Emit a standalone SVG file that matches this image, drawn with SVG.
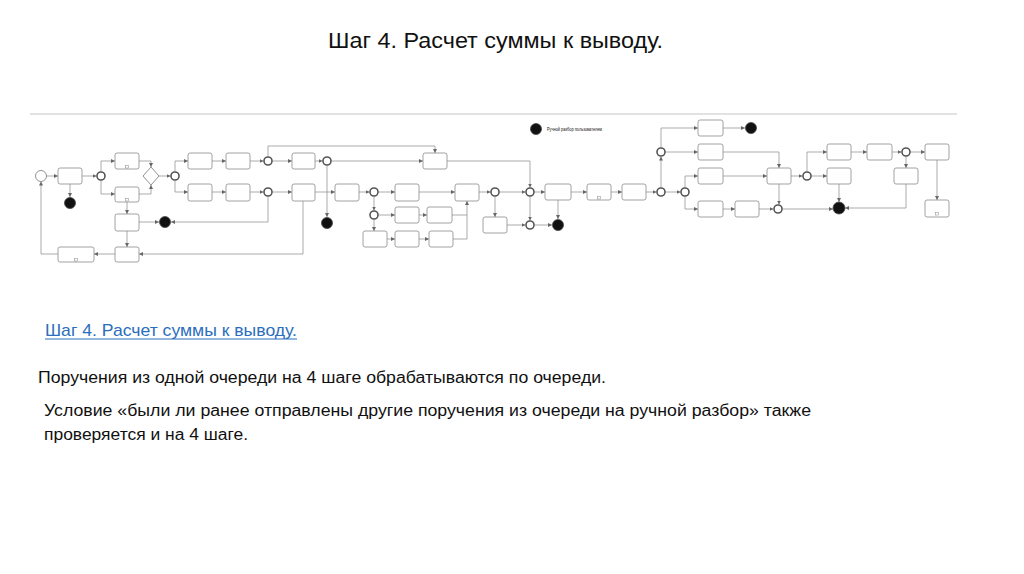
<svg xmlns="http://www.w3.org/2000/svg" width="1024" height="574" viewBox="0 0 1024 574">
<style>
.box{fill:#fff;stroke:#8a8a8a;stroke-width:0.8}
.gw{fill:#fff;stroke:#555;stroke-width:1.6}
.gwi{fill:none;stroke:#999;stroke-width:0.5}
.end{fill:#111;stroke:#444;stroke-width:0.8}
.ln{fill:none;stroke:#888;stroke-width:0.7}
.ar{marker-end:url(#a)}
.sub{fill:#fff;stroke:#888;stroke-width:0.5}
.t{font-family:"Liberation Sans",Arial,sans-serif;fill:#111}
</style>
<defs>
<marker id="a" viewBox="0 0 6 6" refX="6" refY="3" markerWidth="4" markerHeight="4" orient="auto" markerUnits="userSpaceOnUse">
<path d="M0,0 L6,3 L0,6 Z" fill="#666"/>
</marker>
</defs>
<rect width="1024" height="574" fill="#fff"/>
<text class="t" x="328" y="48" font-size="22" textLength="335" lengthAdjust="spacingAndGlyphs">Шаг 4. Расчет суммы к выводу.</text>
<line x1="30" y1="114" x2="957" y2="114" stroke="#e2e2e2" stroke-width="2"/>

<g id="connectors">
<path class="ln ar" d="M46.5,176 H58"/>
<path class="ln ar" d="M82,176 H96.5"/>
<path class="ln ar" d="M70,184 V197"/>
<path class="ln ar" d="M101,171.5 V161 H115"/>
<path class="ln ar" d="M101,180.5 V194 H115"/>
<path class="ln ar" d="M139,161 H151 V167"/>
<path class="ln ar" d="M139,194 H151 V185"/>
<path class="ln ar" d="M159,176 H170.5"/>
<path class="ln ar" d="M175,171.5 V161 H188"/>
<path class="ln ar" d="M175,180.5 V192 H188"/>
<path class="ln ar" d="M212,161 H226"/>
<path class="ln ar" d="M212,192 H226"/>
<path class="ln ar" d="M250,161 H263.5"/>
<path class="ln ar" d="M250,192 H263.5"/>
<path class="ln ar" d="M272.5,161 H292"/>
<path class="ln ar" d="M272.5,192 H292"/>
<path class="ln ar" d="M315,161 H322.5"/>
<path class="ln ar" d="M327,165.5 V217"/>
<path class="ln ar" d="M331.5,161 H423"/>
<path class="ln ar" d="M268,156.5 V146 H435 V153"/>
<path class="ln ar" d="M447,161 H530 V187.5"/>
<path class="ln ar" d="M315,192 H335"/>
<path class="ln ar" d="M359,192 H369.5"/>
<path class="ln ar" d="M378.5,192 H395"/>
<path class="ln ar" d="M419,192 H455"/>
<path class="ln ar" d="M374,196.5 V210.5"/>
<path class="ln ar" d="M378.5,215 H395"/>
<path class="ln ar" d="M419,215 H427"/>
<path class="ln" d="M452,215 H467"/>
<path class="ln ar" d="M374,219.5 V231"/>
<path class="ln ar" d="M387,239 H395"/>
<path class="ln ar" d="M419,239 H429"/>
<path class="ln ar" d="M453,239 H467 V201"/>
<path class="ln ar" d="M479,192 H490.5"/>
<path class="ln ar" d="M499.5,192 H525.5"/>
<path class="ln ar" d="M495,196.5 V217"/>
<path class="ln ar" d="M507,225 H525.5"/>
<path class="ln ar" d="M534.5,225 H552"/>
<path class="ln ar" d="M530,196.5 V220.5"/>
<path class="ln ar" d="M534.5,192 H545"/>
<path class="ln ar" d="M558,200 V219"/>
<path class="ln ar" d="M571,192 H587"/>
<path class="ln ar" d="M611,192 H622"/>
<path class="ln ar" d="M646,192 H656.5"/>
<path class="ln ar" d="M661,187.5 V156.5"/>
<path class="ln ar" d="M661,147.5 V128 H698"/>
<path class="ln ar" d="M665.5,152 H698"/>
<path class="ln ar" d="M723,128 H745"/>
<path class="ln ar" d="M723,152 H779 V168"/>
<path class="ln ar" d="M665.5,192 H680.5"/>
<path class="ln ar" d="M685,187.5 V176 H698"/>
<path class="ln ar" d="M685,196.5 V209 H698"/>
<path class="ln ar" d="M723,176 H767"/>
<path class="ln ar" d="M723,209 H735"/>
<path class="ln ar" d="M759,209 H773.5"/>
<path class="ln ar" d="M779,184 V204.5"/>
<path class="ln ar" d="M782.5,209 H833"/>
<path class="ln ar" d="M791,176 H802.5"/>
<path class="ln ar" d="M807,171.5 V152 H827"/>
<path class="ln ar" d="M811.5,176 H827"/>
<path class="ln ar" d="M851,152 H867"/>
<path class="ln ar" d="M892,152 H901.5"/>
<path class="ln ar" d="M910.5,152 H925"/>
<path class="ln ar" d="M906,156.5 V168"/>
<path class="ln ar" d="M906,184 V208 H845"/>
<path class="ln ar" d="M839,184 V202"/>
<path class="ln ar" d="M937,160 V200"/>
<path class="ln ar" d="M268,196.5 V222 H171"/>
<path class="ln ar" d="M139,222 H159"/>
<path class="ln ar" d="M127,202 V214"/>
<path class="ln ar" d="M127,231 V247"/>
<path class="ln ar" d="M303,201 V254 H139"/>
<path class="ln ar" d="M115,254 H94"/>
<path class="ln ar" d="M58,254 H41 V181.5"/>
</g>

<g id="start"><circle cx="41" cy="176" r="5.5" fill="#fff" stroke="#777" stroke-width="0.8"/></g>

<g id="boxes">
<g id="b1"><rect class="box" x="58" y="168" width="24" height="16" rx="2"/></g>
<g id="b2"><rect class="box" x="115" y="153" width="24" height="16" rx="2"/><rect class="sub" x="125.5" y="165.5" width="3" height="2.5"/></g>
<g id="b3"><rect class="box" x="115" y="187" width="24" height="15" rx="2"/><rect class="sub" x="125.5" y="198.5" width="3" height="2.5"/></g>
<g id="b4"><rect class="box" x="115" y="214" width="24" height="17" rx="2"/></g>
<g id="b5"><rect class="box" x="115" y="247" width="24" height="15" rx="2"/></g>
<g id="b6"><rect class="box" x="58" y="247" width="36" height="15" rx="2"/><rect class="sub" x="74.5" y="258.5" width="3" height="2.5"/></g>
<g id="b7"><rect class="box" x="188" y="153" width="24" height="16" rx="2"/></g>
<g id="b8"><rect class="box" x="188" y="184" width="24" height="17" rx="2"/></g>
<g id="b9"><rect class="box" x="226" y="153" width="24" height="16" rx="2"/></g>
<g id="b10"><rect class="box" x="226" y="184" width="24" height="17" rx="2"/></g>
<g id="b11"><rect class="box" x="292" y="153" width="23" height="16" rx="2"/></g>
<g id="b12"><rect class="box" x="292" y="184" width="23" height="17" rx="2"/></g>
<g id="b13"><rect class="box" x="423" y="153" width="24" height="16" rx="2"/></g>
<g id="b14"><rect class="box" x="335" y="184" width="24" height="17" rx="2"/></g>
<g id="b15"><rect class="box" x="395" y="184" width="24" height="17" rx="2"/></g>
<g id="b16"><rect class="box" x="395" y="207" width="24" height="16" rx="2"/></g>
<g id="b17"><rect class="box" x="427" y="207" width="25" height="16" rx="2"/></g>
<g id="b18"><rect class="box" x="363" y="231" width="24" height="16" rx="2"/></g>
<g id="b19"><rect class="box" x="395" y="231" width="24" height="16" rx="2"/></g>
<g id="b20"><rect class="box" x="429" y="231" width="24" height="16" rx="2"/></g>
<g id="b21"><rect class="box" x="455" y="184" width="24" height="17" rx="2"/></g>
<g id="b22"><rect class="box" x="483" y="217" width="24" height="16" rx="2"/></g>
<g id="b23"><rect class="box" x="545" y="184" width="26" height="16" rx="2"/></g>
<g id="b24"><rect class="box" x="587" y="184" width="24" height="16" rx="2"/><rect class="sub" x="597.5" y="196.5" width="3" height="2.5"/></g>
<g id="b25"><rect class="box" x="622" y="184" width="24" height="16" rx="2"/></g>
<g id="b26"><rect class="box" x="698" y="120" width="25" height="16" rx="2"/></g>
<g id="b27"><rect class="box" x="698" y="144" width="25" height="16" rx="2"/></g>
<g id="b28"><rect class="box" x="698" y="168" width="25" height="16" rx="2"/></g>
<g id="b29"><rect class="box" x="698" y="201" width="25" height="16" rx="2"/></g>
<g id="b30"><rect class="box" x="735" y="201" width="24" height="16" rx="2"/></g>
<g id="b31"><rect class="box" x="767" y="168" width="24" height="16" rx="2"/></g>
<g id="b32"><rect class="box" x="827" y="144" width="24" height="16" rx="2"/></g>
<g id="b33"><rect class="box" x="827" y="168" width="24" height="16" rx="2"/></g>
<g id="b34"><rect class="box" x="867" y="144" width="25" height="16" rx="2"/></g>
<g id="b35"><rect class="box" x="894" y="168" width="24" height="16" rx="2"/></g>
<g id="b36"><rect class="box" x="925" y="144" width="24" height="16" rx="2"/></g>
<g id="b37"><rect class="box" x="925" y="200" width="24" height="17" rx="2"/><rect class="sub" x="935.5" y="212.5" width="3" height="2.5"/></g>
</g>

<g id="decision"><path d="M151,167 L159,176 L151,185 L143,176 Z" fill="#fff" stroke="#777" stroke-width="0.8"/></g>

<g id="gateways">
<g id="g1"><circle class="gw" cx="101" cy="176" r="4"/></g>
<g id="g2"><circle class="gw" cx="175" cy="176" r="4"/></g>
<g id="g3"><circle class="gw" cx="268" cy="161" r="4"/></g>
<g id="g4"><circle class="gw" cx="268" cy="192" r="4"/></g>
<g id="g5"><circle class="gw" cx="327" cy="161" r="4"/></g>
<g id="g6"><circle class="gw" cx="374" cy="192" r="4"/></g>
<g id="g7"><circle class="gw" cx="374" cy="215" r="4"/></g>
<g id="g8"><circle class="gw" cx="495" cy="192" r="4"/></g>
<g id="g9"><circle class="gw" cx="530" cy="192" r="4"/></g>
<g id="g10"><circle class="gw" cx="530" cy="225" r="4"/></g>
<g id="g11"><circle class="gw" cx="661" cy="192" r="4"/></g>
<g id="g12"><circle class="gw" cx="661" cy="152" r="4"/></g>
<g id="g13"><circle class="gw" cx="685" cy="192" r="4"/></g>
<g id="g14"><circle class="gw" cx="778" cy="209" r="4"/></g>
<g id="g15"><circle class="gw" cx="807" cy="176" r="4"/></g>
<g id="g16"><circle class="gw" cx="906" cy="152" r="4"/></g>
</g>

<g id="ends">
<g id="e1"><circle class="end" cx="70" cy="203" r="5.5"/></g>
<g id="e2"><circle class="end" cx="165" cy="222" r="5.5"/></g>
<g id="e3"><circle class="end" cx="327" cy="223" r="5.5"/></g>
<g id="e4"><circle class="end" cx="558" cy="225" r="5.5"/></g>
<g id="e5"><circle class="end" cx="751" cy="128" r="5.5"/></g>
<g id="e6"><circle class="end" cx="839" cy="208" r="6"/></g>
</g>

<g id="legend">
<circle class="end" cx="536" cy="129" r="5.5"/>
<text class="t" x="547" y="131" font-size="4.5" textLength="55" lengthAdjust="spacingAndGlyphs">Ручной разбор пользователем</text>
</g>

<g id="notes">
<text class="t" x="45" y="336" font-size="17" fill="#2a6ebd" style="fill:#2a6ebd" textLength="252" lengthAdjust="spacingAndGlyphs">Шаг 4. Расчет суммы к выводу.</text>
<line x1="45" y1="339" x2="297" y2="339" stroke="#2a6ebd" stroke-width="1"/>
<text class="t" x="38" y="383" font-size="16" textLength="568" lengthAdjust="spacingAndGlyphs">Поручения из одной очереди на 4 шаге обрабатываются по очереди.</text>
<text class="t" x="44" y="416" font-size="16" textLength="767" lengthAdjust="spacingAndGlyphs">Условие «были ли ранее отправлены другие поручения из очереди на ручной разбор» также</text>
<text class="t" x="44" y="440" font-size="16" textLength="204" lengthAdjust="spacingAndGlyphs">проверяется и на 4 шаге.</text>
</g>
</svg>
